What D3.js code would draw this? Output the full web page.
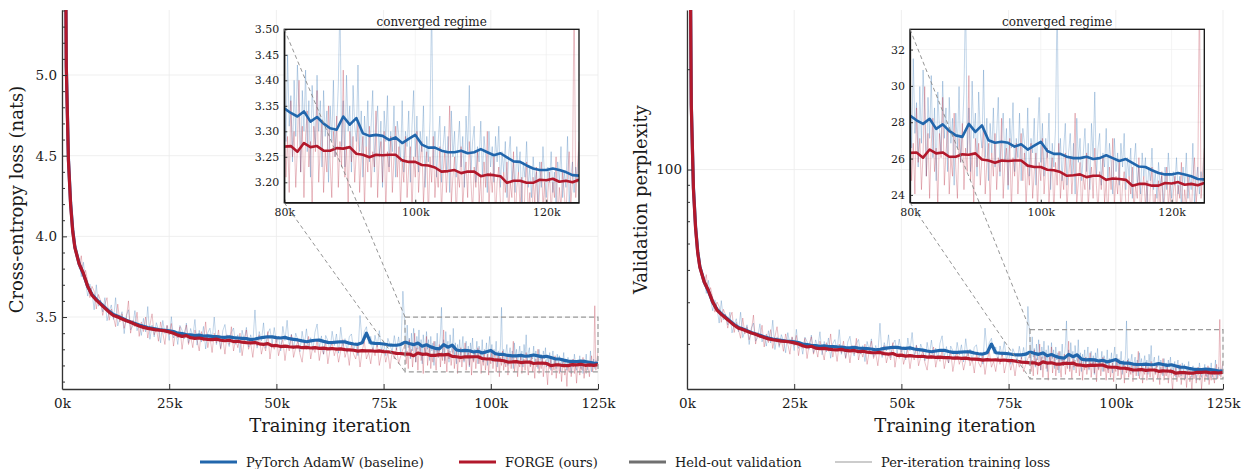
<!DOCTYPE html>
<html>
<head>
<meta charset="utf-8">
<script src="https://cdn.jsdelivr.net/npm/d3@7"></script>
<style>
  body { margin: 0; background: #fff; }
  svg text { font-family: "DejaVu Serif", serif; fill: #1a1a1a; }
</style>
</head>
<body>
<svg width="1243" height="469"></svg>
<script>
// held-out validation loss, sampled every 1k (denser at the start)
var valIters = [0, 500, 1000, 1500, 2000, 2500, 3000].concat(d3.range(4000, 125001, 1000));

var valAdamW = [10.9, 7.2, 5.06, 4.48, 4.21, 4.04, 3.935,
  3.83, 3.765, 3.69, 3.64, 3.61, 3.585, 3.56, 3.535, 3.515, 3.505,
  3.493, 3.48, 3.47, 3.46, 3.45, 3.442, 3.435, 3.43, 3.425, 3.42,
  3.418, 3.415, 3.41, 3.40, 3.397, 3.392, 3.389, 3.385, 3.388, 3.382,
  3.383, 3.38, 3.379, 3.376, 3.374, 3.377, 3.372, 3.37, 3.368, 3.366,
  3.36, 3.364, 3.37, 3.374, 3.378, 3.377, 3.372, 3.37, 3.374, 3.366,
  3.362, 3.358, 3.352, 3.347, 3.352, 3.356, 3.357, 3.349, 3.343, 3.342,
  3.345, 3.347, 3.346, 3.338, 3.333, 3.331, 3.34, 3.40, 3.34, 3.337,
  3.336, 3.333, 3.328, 3.326, 3.325, 3.33, 3.345,
  3.336, 3.329, 3.339, 3.319, 3.328, 3.315, 3.306, 3.303, 3.329, 3.313,
  3.326, 3.296, 3.291, 3.293, 3.291, 3.283, 3.288, 3.277, 3.285, 3.293,
  3.274, 3.268, 3.268, 3.262, 3.259, 3.259, 3.262, 3.257, 3.259, 3.265,
  3.259, 3.253, 3.257, 3.249, 3.241, 3.240, 3.233, 3.227, 3.224, 3.224,
  3.227, 3.224, 3.220, 3.214, 3.213];

var valForge = [10.9, 7.2, 5.05, 4.47, 4.20, 4.03, 3.93,
  3.83, 3.77, 3.69, 3.635, 3.605, 3.58, 3.555, 3.53, 3.51, 3.50,
  3.488, 3.477, 3.468, 3.455, 3.445, 3.436, 3.43, 3.425, 3.42, 3.418,
  3.414, 3.408, 3.40, 3.388, 3.38, 3.385, 3.372, 3.368, 3.37, 3.365,
  3.362, 3.36, 3.363, 3.356, 3.353, 3.356, 3.348, 3.35, 3.344, 3.341,
  3.34, 3.342, 3.334, 3.331, 3.335, 3.322, 3.324, 3.317, 3.32, 3.316,
  3.314, 3.316, 3.31, 3.312, 3.308, 3.31, 3.306, 3.307, 3.303, 3.305,
  3.301, 3.303, 3.298, 3.296, 3.294, 3.289, 3.292, 3.29, 3.291, 3.288,
  3.29, 3.286, 3.285, 3.28, 3.275, 3.274, 3.270,
  3.271, 3.260, 3.277, 3.269, 3.271, 3.262, 3.262, 3.267, 3.266, 3.269,
  3.256, 3.254, 3.249, 3.254, 3.253, 3.254, 3.254, 3.243, 3.240, 3.240,
  3.234, 3.233, 3.229, 3.221, 3.222, 3.224, 3.218, 3.221, 3.221, 3.212,
  3.215, 3.214, 3.212, 3.199, 3.203, 3.203, 3.199, 3.199, 3.205, 3.204,
  3.207, 3.201, 3.203, 3.200, 3.205];

// per-iteration training loss (every 500 it, every 250 it after 80k)
var trainIters = d3.range(4000, 80000, 500).concat(d3.range(80000, 125001, 250));

var trainAdamW = [
  3.86, 3.75, 3.84, 3.71, 3.63, 3.705, 3.65, 3.545, 3.70, 3.567,
  3.605, 3.532, 3.62, 3.477, 3.535, 3.575, 3.485, 3.62, 3.445, 3.489,
  3.533, 3.397, 3.51, 3.545, 3.42, 3.445, 3.54, 3.415, 3.46, 3.386,
  3.492, 3.408, 3.565, 3.362, 3.45, 3.377, 3.465, 3.422, 3.34, 3.479,
  3.398, 3.446, 3.355, 3.502, 3.37, 3.415, 3.33, 3.448, 3.417, 3.364,
  3.462, 3.34, 3.429, 3.377, 3.485, 3.326, 3.418, 3.345, 3.442, 3.302,
  3.403, 3.431, 3.35, 3.50, 3.329, 3.387, 3.306, 3.415, 3.454, 3.355,
  3.317, 3.404, 3.432, 3.331, 3.39, 3.279, 3.418, 3.357, 3.436, 3.313,
  3.39, 3.332, 3.544, 3.307, 3.41, 3.352, 3.464, 3.306, 3.398, 3.428,
  3.337, 3.435, 3.342, 3.381, 3.29, 3.442, 3.354, 3.48, 3.316, 3.394,
  3.302, 3.40, 3.358, 3.285, 3.412, 3.32, 3.427, 3.31, 3.372, 3.294,
  3.406, 3.457, 3.307, 3.383, 3.269, 3.386, 3.353, 3.292, 3.412, 3.323,
  3.395, 3.276, 3.437, 3.317, 3.366, 3.282, 3.378, 3.395, 3.293, 3.342,
  3.261, 3.51, 3.34, 3.41, 3.44, 3.335, 3.38, 3.283, 3.387, 3.316,
  3.416, 3.285, 3.353, 3.26, 3.368, 3.327, 3.286, 3.385, 3.295, 3.377,
  3.27, 3.66,
  3.41, 3.28, 3.45, 3.31, 3.37, 3.24, 3.40, 3.29, 3.43, 3.35, 3.22, 3.38, 3.30, 3.42, 3.26, 3.36, 3.21, 3.39, 3.32, 3.27,
  3.41, 3.30, 3.36, 3.23, 3.38, 3.29, 3.34, 3.20, 3.35, 3.28, 3.40, 3.25, 3.31, 3.39, 3.56, 3.27, 3.36, 3.23, 3.41, 3.30,
  3.35, 3.22, 3.39, 3.31, 3.28, 3.43, 3.26, 3.34, 3.21, 3.33, 3.27, 3.36, 3.24, 3.31, 3.38, 3.22, 3.30, 3.35, 3.25, 3.32,
  3.19, 3.34, 3.28, 3.37, 3.23, 3.30, 3.26, 3.35, 3.21, 3.32, 3.29, 3.24, 3.36, 3.22, 3.30, 3.27, 3.34, 3.20, 3.31, 3.38,
  3.25, 3.33, 3.22, 3.30, 3.26, 3.35, 3.19, 3.29, 3.24, 3.32, 3.56, 3.23, 3.30, 3.21, 3.28, 3.33, 3.20, 3.27, 3.31, 3.22,
  3.29, 3.18, 3.34, 3.25, 3.30, 3.21, 3.27, 3.32, 3.23, 3.29, 3.19, 3.33, 3.26, 3.39, 3.22, 3.28, 3.31, 3.20, 3.27, 3.24,
  3.32, 3.21, 3.29, 3.25, 3.18, 3.30, 3.23, 3.27, 3.20, 3.29, 3.24, 3.31, 3.19, 3.26, 3.22, 3.28, 3.17, 3.25, 3.29, 3.20,
  3.24, 3.18, 3.27, 3.22, 3.26, 3.16, 3.24, 3.21, 3.28, 3.19, 3.23, 3.17, 3.25, 3.20, 3.22, 3.15, 3.24, 3.19, 3.27, 3.21,
  3.17, 3.23, 3.20, 3.26, 3.18, 3.22, 3.15, 3.24, 3.20, 3.27, 3.17, 3.22, 3.19, 3.29, 3.16, 3.21, 3.24, 3.18, 3.23, 3.20,
  3.26];

var trainForge = [
  3.80, 3.88, 3.74, 3.79, 3.72, 3.62, 3.69, 3.66, 3.55, 3.64,
  3.60, 3.51, 3.58, 3.62, 3.48, 3.55, 3.50, 3.44, 3.58, 3.47,
  3.52, 3.43, 3.49, 3.60, 3.40, 3.48, 3.44, 3.53, 3.38, 3.47,
  3.41, 3.50, 3.37, 3.45, 3.52, 3.39, 3.43, 3.35, 3.47, 3.40,
  3.33, 3.45, 3.39, 3.46, 3.32, 3.41, 3.37, 3.44, 3.30, 3.40,
  3.45, 3.33, 3.38, 3.31, 3.42, 3.36, 3.29, 3.41, 3.35, 3.47,
  3.31, 3.38, 3.28, 3.40, 3.34, 3.42, 3.30, 3.37, 3.27, 3.39,
  3.33, 3.44, 3.29, 3.36, 3.31, 3.40, 3.26, 3.35, 3.42, 3.30,
  3.34, 3.25, 3.37, 3.32, 3.39, 3.27, 3.33, 3.29, 3.41, 3.24,
  3.34, 3.30, 3.38, 3.26, 3.32, 3.36, 3.23, 3.33, 3.29, 3.39,
  3.25, 3.31, 3.35, 3.27, 3.22, 3.34, 3.30, 3.38, 3.24, 3.32,
  3.28, 3.36, 3.23, 3.31, 3.27, 3.35, 3.21, 3.30, 3.34, 3.26,
  3.31, 3.22, 3.29, 3.36, 3.25, 3.30, 3.20, 3.33, 3.27, 3.24,
  3.32, 3.19, 3.29, 3.35, 3.24, 3.28, 3.21, 3.31, 3.26, 3.34,
  3.20, 3.27, 3.30, 3.22, 3.28, 3.18, 3.29, 3.24, 3.31, 3.21,
  3.26, 3.30,
  3.33, 3.21, 3.29, 3.18, 3.36, 3.25, 3.30, 3.19, 3.27, 3.40, 3.22, 3.31, 3.17, 3.29, 3.34, 3.23, 3.28, 3.15, 3.31, 3.26,
  3.38, 3.20, 3.27, 3.32, 3.18, 3.26, 3.22, 3.35, 3.24, 3.17, 3.30, 3.25, 3.33, 3.19, 3.28, 3.23, 3.42, 3.21, 3.27, 3.16,
  3.30, 3.24, 3.29, 3.20, 3.26, 3.32, 3.18, 3.25, 3.29, 3.15, 3.27, 3.22, 3.31, 3.19, 3.26, 3.23, 3.34, 3.17, 3.25, 3.28,
  3.20, 3.30, 3.14, 3.26, 3.22, 3.29, 3.18, 3.25, 3.31, 3.21, 3.27, 3.15, 3.24, 3.20, 3.29, 3.17, 3.23, 3.27, 3.14, 3.25,
  3.21, 3.30, 3.18, 3.24, 3.28, 3.16, 3.22, 3.26, 3.13, 3.25, 3.20, 3.29, 3.17, 3.23, 3.19, 3.27, 3.14, 3.22, 3.26, 3.18,
  3.24, 3.35, 3.16, 3.21, 3.25, 3.13, 3.22, 3.19, 3.27, 3.15, 3.21, 3.24, 3.17, 3.28, 3.20, 3.14, 3.23, 3.19, 3.26, 3.16,
  3.21, 3.12, 3.24, 3.19, 3.30, 3.15, 3.22, 3.18, 3.25, 3.13, 3.20, 3.23, 3.16, 3.08, 3.22, 3.18, 3.24, 3.14, 3.20, 3.17,
  3.26, 3.12, 3.19, 3.22, 3.15, 3.21, 3.10, 3.19, 3.24, 3.14, 3.18, 3.07, 3.21, 3.16, 3.23, 3.13, 3.19, 3.24, 3.15, 3.20,
  3.09, 3.18, 3.22, 3.14, 3.20, 3.17, 3.25, 3.12, 3.19, 3.15, 3.22, 3.18, 3.13, 3.21, 3.26, 3.16, 3.20, 3.57, 3.17, 3.23,
  3.28];

var xTicks = [0, 25000, 50000, 75000, 100000, 125000];
var insetXTicks = [80000, 100000, 120000];
var lossTicks = [3.5, 4.0, 4.5, 5.0];
var lossMinor = [3.1, 3.2, 3.3, 3.4, 3.6, 3.7, 3.8, 3.9, 4.1, 4.2, 4.3, 4.4, 4.6, 4.7, 4.8, 4.9, 5.1, 5.2, 5.3, 5.4];
var insetLossTicks = [3.20, 3.25, 3.30, 3.35, 3.40, 3.45, 3.50];
var pplTicks = [100];
var pplMinor = [30, 40, 50, 60, 70, 80, 90, 200];
var insetPplTicks = [24, 26, 28, 30, 32];

var BLUE = "#2166ac", RED = "#b2182b";

var svg = d3.select("svg"),
    W = 536, plotTop = 10, plotBot = 389;

var kFmt = function(d) { return d / 1000 + "k"; };

function clip(id, x0, y0, w, h) {
  svg.append("defs").append("clipPath").attr("id", id)
    .append("rect").attr("x", x0).attr("y", y0).attr("width", w).attr("height", h);
  return "url(#" + id + ")";
}

function drawSeries(g, x, y, f, lw) {
  var line = d3.line()
      .x(function(d) { return x(d[0]); })
      .y(function(d) { return y(f(d[1])); });
  [[trainAdamW, BLUE], [trainForge, RED]].forEach(function(s) {
    g.append("path")
        .datum(d3.zip(trainIters, s[0]))
        .attr("d", line)
        .attr("fill", "none")
        .attr("stroke", s[1])
        .attr("stroke-opacity", 0.3)
        .attr("stroke-width", 0.9);
  });
  [[valAdamW, BLUE], [valForge, RED]].forEach(function(s) {
    g.append("path")
        .datum(d3.zip(valIters, s[0]))
        .attr("d", line)
        .attr("fill", "none")
        .attr("stroke", s[1])
        .attr("stroke-width", lw)
        .attr("stroke-linejoin", "round");
  });
}

function styleAxis(sel, size) {
  sel.selectAll("text").style("font-size", size + "px").attr("fill", "#1a1a1a");
  sel.selectAll("line").attr("stroke", "#333");
  sel.select(".domain").attr("stroke", "#333").attr("stroke-width", 1.3);
}

var panels = [
  {id: "loss", left: 62, f: function(v) { return v; },
   y: d3.scaleLinear().domain([3.054, 5.403]).range([plotBot, plotTop]),
   ticks: lossTicks, minor: lossMinor, fmt: d3.format(".1f"),
   title: "Cross-entropy loss (nats)", titleX: 23,
   inset: {x0: 284.3, x1: 579, y: d3.scaleLinear().domain([3.16, 3.50]).range([202.7, 29.3]),
           ticks: insetLossTicks, fmt: d3.format(".2f")}},
  {id: "ppl", left: 687, f: Math.exp,
   y: d3.scaleLog().domain([21.97, 301]).range([plotBot, plotTop]),
   ticks: pplTicks, minor: pplMinor, fmt: d3.format("d"),
   title: "Validation perplexity", titleX: 646.5,
   inset: {x0: 910, x1: 1204.3, y: d3.scaleLinear().domain([Math.exp(3.16), Math.exp(3.50)]).range([202.7, 29.3]),
           ticks: insetPplTicks, fmt: d3.format("d")}}
];

panels.forEach(function(p) {
  var x = d3.scaleLinear().domain([0, 125000]).range([p.left, p.left + W]),
      y = p.y,
      g = svg.append("g");

  // grid
  g.selectAll(".gx").data(xTicks).enter().append("line")
      .attr("x1", x).attr("x2", x).attr("y1", plotTop).attr("y2", plotBot)
      .attr("stroke", "#ebebeb").attr("stroke-width", 0.8);
  g.selectAll(".gy").data(p.ticks).enter().append("line")
      .attr("x1", p.left).attr("x2", p.left + W)
      .attr("y1", y).attr("y2", y)
      .attr("stroke", "#ebebeb").attr("stroke-width", 0.8);

  var plot = g.append("g").attr("clip-path", clip("c-" + p.id, p.left, plotTop, W, plotBot - plotTop));
  drawSeries(plot, x, y, p.f, 3.2);

  // axes, ticks pointing inward
  g.append("g")
      .attr("transform", "translate(0," + plotBot + ")")
      .call(d3.axisBottom(x).tickValues(xTicks).tickFormat(kFmt).tickSize(-5).tickSizeOuter(0).tickPadding(9))
      .call(styleAxis, 13.5);
  g.append("g")
      .attr("transform", "translate(" + p.left + ",0)")
      .call(d3.axisLeft(y).tickValues(p.ticks).tickFormat(p.fmt).tickSize(-5).tickSizeOuter(0).tickPadding(5))
      .call(styleAxis, 13.5);
  g.append("g")
      .attr("transform", "translate(" + p.left + ",0)")
      .call(d3.axisLeft(y).tickValues(p.minor).tickFormat("").tickSize(-3))
      .call(function(a) { a.select(".domain").remove(); a.selectAll("line").attr("stroke", "#333"); });

  g.append("text")
      .attr("x", p.left + W / 2).attr("y", 432)
      .attr("text-anchor", "middle")
      .style("font-size", "18px")
      .text("Training iteration");
  g.append("text")
      .attr("transform", "translate(" + p.titleX + "," + ((plotTop + plotBot) / 2) + ") rotate(-90)")
      .attr("text-anchor", "middle")
      .style("font-size", "18px")
      .text(p.title);

  // inset
  var ins = p.inset,
      ix = d3.scaleLinear().domain([80000, 125000]).range([ins.x0, ins.x1]),
      iy = ins.y,
      iTop = iy.range()[1], iBot = iy.range()[0],
      yLo = iy.domain()[0], yHi = iy.domain()[1];

  // zoomed region in the main axes
  g.append("rect")
      .attr("x", x(80000)).attr("y", y(yHi))
      .attr("width", x(125000) - x(80000)).attr("height", y(yLo) - y(yHi))
      .attr("fill", "none").attr("stroke", "#9a9a9a")
      .attr("stroke-width", 1.2).attr("stroke-dasharray", "5,3");

  var ig = svg.append("g");
  ig.append("rect")
      .attr("x", ins.x0).attr("y", iTop).attr("width", ins.x1 - ins.x0).attr("height", iBot - iTop)
      .attr("fill", "#fff");
  ig.selectAll(".igx").data(insetXTicks).enter().append("line")
      .attr("x1", ix).attr("x2", ix).attr("y1", iTop).attr("y2", iBot)
      .attr("stroke", "#efefef").attr("stroke-width", 0.7);
  ig.selectAll(".igy").data(ins.ticks).enter().append("line")
      .attr("x1", ins.x0).attr("x2", ins.x1).attr("y1", iy).attr("y2", iy)
      .attr("stroke", "#efefef").attr("stroke-width", 0.7);

  var iplot = ig.append("g").attr("clip-path", clip("ci-" + p.id, ins.x0, iTop, ins.x1 - ins.x0, iBot - iTop));
  drawSeries(iplot, ix, iy, p.f, 2.6);

  ig.append("g")
      .attr("transform", "translate(0," + iBot + ")")
      .call(d3.axisBottom(ix).tickValues(insetXTicks).tickFormat(kFmt).tickSize(-3).tickSizeOuter(0).tickPadding(6))
      .call(styleAxis, 11);
  ig.append("g")
      .attr("transform", "translate(" + ins.x0 + ",0)")
      .call(d3.axisLeft(iy).tickValues(ins.ticks).tickFormat(ins.fmt).tickSize(-3).tickSizeOuter(0).tickPadding(5))
      .call(styleAxis, 11);
  ig.append("rect")
      .attr("x", ins.x0).attr("y", iTop).attr("width", ins.x1 - ins.x0).attr("height", iBot - iTop)
      .attr("fill", "none").attr("stroke", "#111").attr("stroke-width", 1.3);
  ig.append("text")
      .attr("x", (ins.x0 + ins.x1) / 2).attr("y", 25.5)
      .attr("text-anchor", "middle")
      .style("font-size", "12px")
      .text("converged regime");

  // connectors from the inset corners to the zoomed region
  [[iTop, y(yHi)], [iBot, y(yLo)]].forEach(function(c) {
    svg.append("line")
        .attr("x1", ins.x0).attr("y1", c[0])
        .attr("x2", x(80000)).attr("y2", c[1])
        .attr("stroke", "#888").attr("stroke-width", 0.9)
        .attr("stroke-dasharray", "4,3");
  });
});

// legend
var legend = [
  {label: "PyTorch AdamW (baseline)", color: BLUE, width: 3, x: 200},
  {label: "FORGE (ours)", color: RED, width: 3, x: 459},
  {label: "Held-out validation", color: "#707070", width: 3, x: 629},
  {label: "Per-iteration training loss", color: "#999", width: 1, x: 835}
];

var lg = svg.append("g").selectAll("g").data(legend).enter().append("g");
lg.append("line")
    .attr("x1", function(d) { return d.x; })
    .attr("x2", function(d) { return d.x + 37; })
    .attr("y1", 462).attr("y2", 462)
    .attr("stroke", function(d) { return d.color; })
    .attr("stroke-width", function(d) { return d.width; });
lg.append("text")
    .attr("x", function(d) { return d.x + 46; })
    .attr("y", 466.5)
    .style("font-size", "13px")
    .text(function(d) { return d.label; });
</script>
</body>
</html>
